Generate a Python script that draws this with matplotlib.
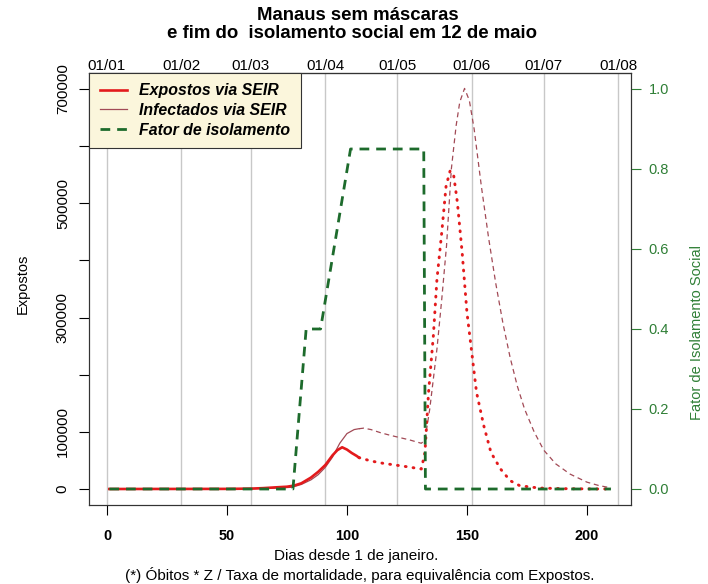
import matplotlib
matplotlib.use('Agg')
import matplotlib.pyplot as plt
from matplotlib.lines import Line2D

plt.rcParams['font.family'] = ['Liberation Sans', 'DejaVu Sans']

# Expostos via SEIR (parte cheia, ate o dia 105)
exp_days = [1, 50, 60, 65, 70, 75, 78, 81, 85, 88, 91, 94, 96, 98, 100, 102, 104, 105]
exp_vals = [0, 200, 700, 1500, 2800, 4000, 6000, 10000, 20000, 30000, 42000, 59000,
            68000, 73000, 69000, 63000, 58000, 55000]
# Expostos - continuacao pontilhada (obitos * Z / taxa)
exp_proj_days = [105, 110, 115, 120, 125, 131, 132.5, 134, 136, 137.5, 139.5, 141.3,
                 143, 144.5, 146, 148, 150, 152, 154, 157, 160, 164, 168, 172, 180,
                 190, 200, 210]
exp_proj_vals = [55000, 49000, 45000, 42000, 39000, 35000, 64000, 169000, 268000, 367000,
                 449000, 530000, 557000, 548000, 502000, 414000, 309000, 239000, 169000,
                 111000, 64000, 35000, 14600, 5800, 1700, 600, 200, 0]

# Infectados via SEIR
inf_days = [1, 60, 70, 77, 81, 85, 88, 91, 94, 97, 100, 103, 105]
inf_vals = [0, 500, 1500, 3000, 8000, 16000, 25000, 38000, 56000, 80000, 97000, 104000, 105500]
inf_proj_days = [105, 107, 110, 114, 118, 122, 126, 131, 132.5, 134.5, 137.5, 139.5, 141.5,
                 143.5, 145.5, 147, 149, 151, 153, 156, 159, 162, 165, 168, 171, 174,
                 178, 182, 187, 193, 200, 205, 210]
inf_proj_vals = [105500, 106500, 104000, 98500, 94000, 90000, 86000, 80000, 86000, 140000,
                 245000, 332000, 426000, 560000, 636000, 677000, 701000, 680000, 630000,
                 530000, 440000, 360000, 290000, 230000, 180000, 140000, 100000, 68000,
                 44000, 26000, 12000, 6000, 2000]

# Fator de isolamento social
iso_days = [1, 77.5, 83, 89, 101.5, 132, 132.7, 210]
iso_vals = [0, 0, 0.4, 0.4, 0.85, 0.85, 0, 0]

# datas no eixo de cima
date_days = [0, 31, 60, 91, 121, 152, 182, 213]
date_labels = ['01/01', '01/02', '01/03', '01/04', '01/05', '01/06', '01/07', '01/08']

x_ticks = [0, 50, 100, 150, 200]
y_ticks = [0, 100000, 200000, 300000, 400000, 500000, 600000, 700000]
y_labels = ['0', '100000', '', '300000', '', '500000', '', '700000']
iso_ticks = [0.0, 0.2, 0.4, 0.6, 0.8, 1.0]

c_exp = '#e31a1c'
c_inf = '#a24a56'
c_iso = '#1d6b2c'
c_axis_green = '#2f7f36'

W, H = 708, 584
fig = plt.figure(figsize=(W / 100, H / 100), dpi=100)
ax = fig.add_axes([89.3 / W, 1 - 505 / H, (631 - 89.3) / W, 432 / H])
ax2 = ax.twinx()

for d in date_days:
    ax.axvline(d, color='#c8c8c8', lw=1, zorder=0)

ax.plot(inf_days, inf_vals, color=c_inf, lw=0.9, zorder=2)
ax.plot(inf_proj_days, inf_proj_vals, color=c_inf, lw=0.9, linestyle=(0, (4, 3)), zorder=2)
ax.plot(exp_days, exp_vals, color=c_exp, lw=1.9, zorder=3)
ax.plot(exp_proj_days, exp_proj_vals, color=c_exp, lw=2.1, linestyle=(0, (0.3, 2.4)),
        dash_capstyle='round', zorder=3)
ax2.plot(iso_days, iso_vals, color=c_iso, lw=2, linestyle=(0, (3.5, 2.5)))

ax.set_xlim(-7.36, 218.36)
ax.set_ylim(-28000, 728000)
ax2.set_ylim(-0.04, 1.04)

ax.set_xticks(x_ticks)
ax.set_xticklabels([str(t) for t in x_ticks], fontweight='bold', fontsize=10.4)
ax.tick_params(axis='x', length=7, width=0.8, pad=10)
ax.set_yticks(y_ticks)
ax.set_yticklabels(y_labels, rotation=90, va='center', fontsize=11)
ax.tick_params(axis='y', length=7, width=0.8, pad=7)

ax2.set_yticks(iso_ticks)
ax2.set_yticklabels(['%.1f' % t for t in iso_ticks], fontsize=10.5, color=c_axis_green)
ax2.tick_params(axis='y', length=7, width=0.8, pad=5.8, color=c_axis_green)

top = ax.secondary_xaxis('top')
top.set_xticks(date_days)
top.set_xticklabels(date_labels, fontsize=11)
top.tick_params(length=0, pad=0.3)

for a in (ax, ax2):
    for s in a.spines.values():
        s.set_linewidth(0.8)
        s.set_color('#333333')

fig.text(358 / W, 1 - 15 / H, 'Manaus sem máscaras', ha='center', va='center',
         fontsize=13.4, fontweight='bold')
fig.text(352 / W, 1 - 34 / H, 'e fim do  isolamento social em 12 de maio', ha='center',
         va='center', fontsize=13.4, fontweight='bold')
fig.text(23 / W, 1 - 284 / H, 'Expostos', rotation=90, ha='center', va='center', fontsize=10.5)
fig.text(697 / W, 1 - 332 / H, 'Fator de Isolamento Social', rotation=90, ha='center',
         va='center', fontsize=10.5, color=c_axis_green)
fig.text(356 / W, 1 - 556 / H, 'Dias desde 1 de janeiro.', ha='center', va='center',
         fontsize=11)
fig.text(360 / W, 1 - 575 / H,
         '(*) Óbitos * Z / Taxa de mortalidade, para equivalência com Expostos.',
         ha='center', va='center', fontsize=11)

handles = [Line2D([], [], color=c_exp, lw=1.9),
           Line2D([], [], color=c_inf, lw=0.9),
           Line2D([], [], color=c_iso, lw=2, linestyle=(0, (3.5, 2.5)))]
leg = ax2.legend(handles, ['Expostos via SEIR', 'Infectados via SEIR', 'Fator de isolamento'],
                 loc='upper left', bbox_to_anchor=(0, 1), borderaxespad=0,
                 prop={'weight': 'bold', 'style': 'italic', 'size': 11.4},
                 handlelength=1.7, handletextpad=0.8, labelspacing=0.3,
                 borderpad=0.65, fancybox=False, framealpha=1,
                 facecolor='#fbf6dc', edgecolor='#333333')
leg.get_frame().set_linewidth(0.8)

fig.savefig('out.png', dpi=100)
